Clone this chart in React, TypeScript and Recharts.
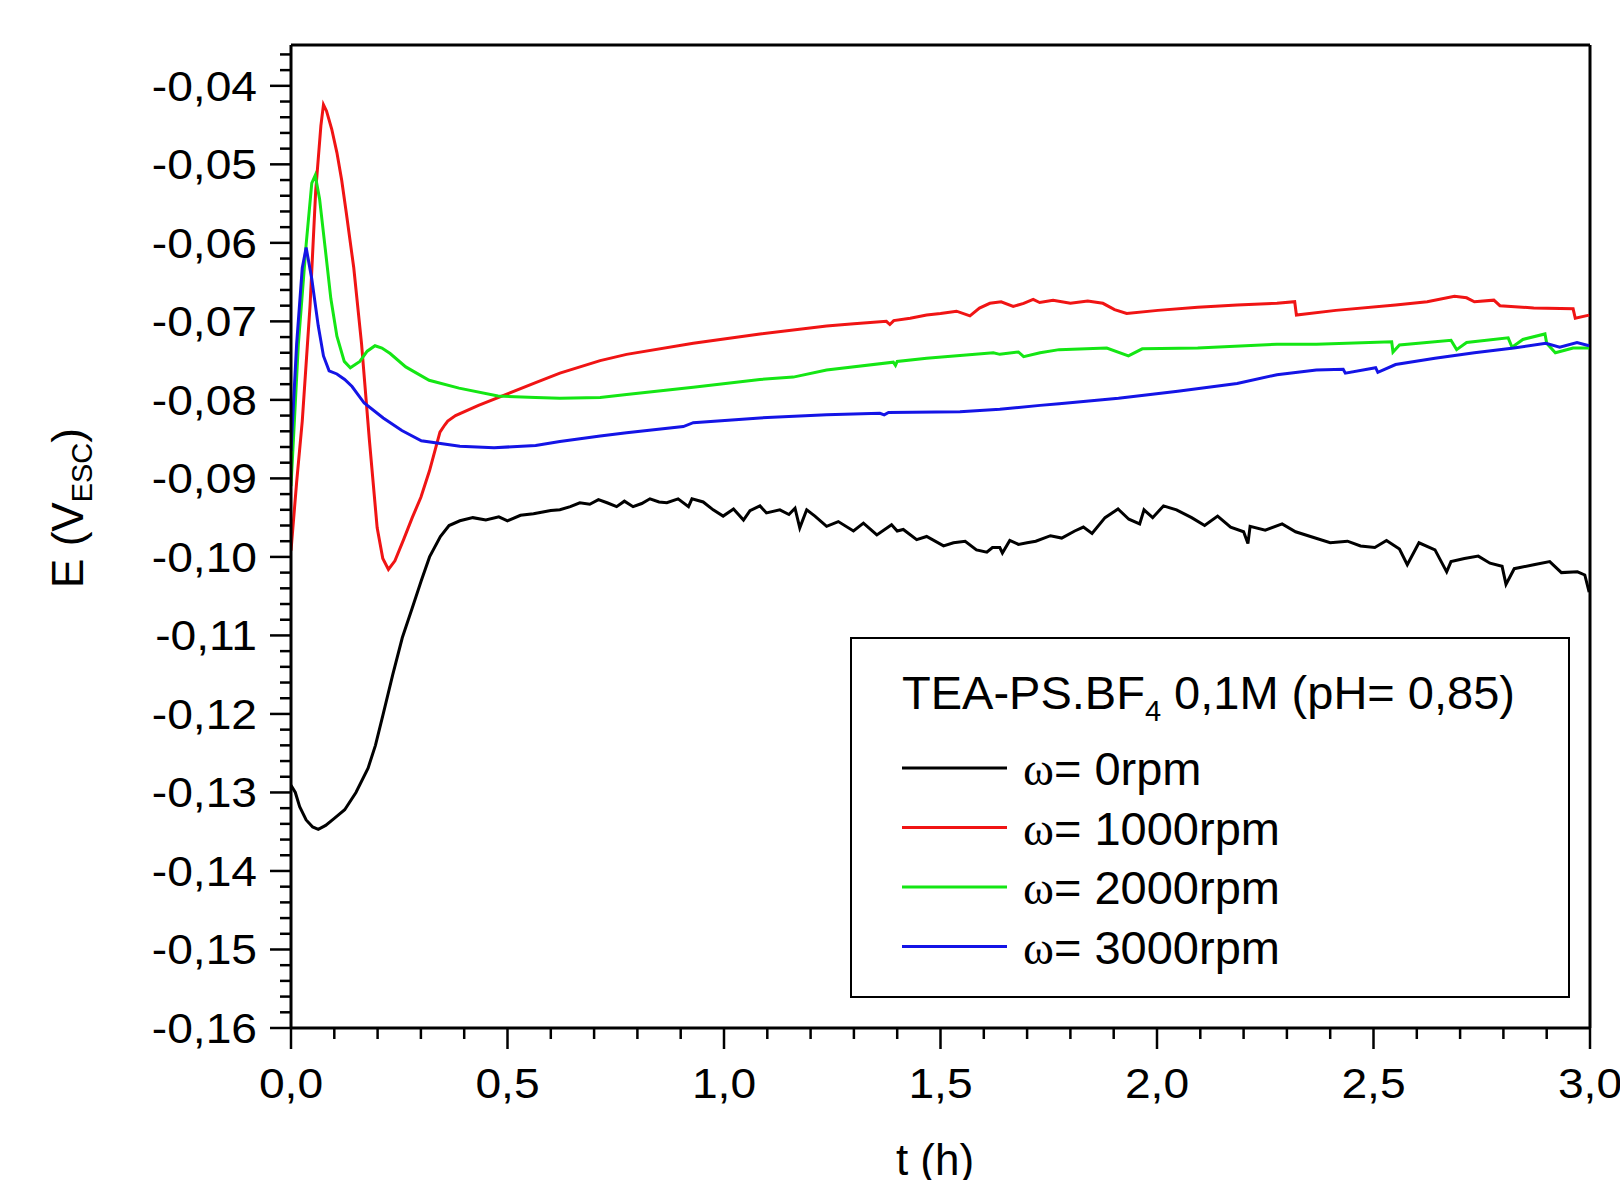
import React from 'react';
import { LineChart, Line, XAxis, YAxis, ReferenceLine, Legend } from 'recharts';

// time (h), potential (V vs ESC)
const BLACK: number[][] = [
  [0, -0.1291], [0.01, -0.13], [0.02, -0.1318], [0.035, -0.1335], [0.05, -0.1344], [0.063, -0.1347],
  [0.08, -0.1342], [0.1, -0.1333], [0.124, -0.1322], [0.15, -0.13], [0.178, -0.1269], [0.195, -0.124],
  [0.213, -0.12], [0.235, -0.115], [0.257, -0.1103], [0.28, -0.1065], [0.301, -0.103], [0.32, -0.1],
  [0.345, -0.0974], [0.365, -0.096], [0.39, -0.0954], [0.42, -0.095], [0.45, -0.0953], [0.48, -0.0949],
  [0.5, -0.0954], [0.53, -0.0947], [0.56, -0.0945], [0.6, -0.0941], [0.621, -0.094], [0.645, -0.0936],
  [0.667, -0.0931], [0.69, -0.0933], [0.71, -0.0927], [0.73, -0.0931], [0.752, -0.0936], [0.77, -0.0929],
  [0.79, -0.0936], [0.81, -0.0932], [0.829, -0.0926], [0.85, -0.093], [0.868, -0.0931], [0.894, -0.0926],
  [0.918, -0.0936], [0.926, -0.0926], [0.952, -0.093], [0.975, -0.094], [0.998, -0.0948], [1.022, -0.0939],
  [1.045, -0.0953], [1.06, -0.0941], [1.083, -0.0935], [1.098, -0.0944], [1.129, -0.094], [1.15, -0.0946],
  [1.164, -0.0938], [1.175, -0.0963], [1.191, -0.094], [1.21, -0.0948], [1.237, -0.0961], [1.264, -0.0955],
  [1.299, -0.0967], [1.322, -0.0957], [1.353, -0.0972], [1.387, -0.0959], [1.4, -0.0967], [1.414, -0.0965],
  [1.445, -0.0978], [1.468, -0.0974], [1.507, -0.0986], [1.53, -0.0982], [1.557, -0.098], [1.583, -0.0991],
  [1.607, -0.0994], [1.62, -0.0988], [1.637, -0.0988], [1.643, -0.0995], [1.66, -0.0979], [1.68, -0.0984],
  [1.7, -0.0982], [1.72, -0.098], [1.754, -0.0973], [1.78, -0.0976], [1.81, -0.0967], [1.83, -0.0962],
  [1.85, -0.097], [1.88, -0.095], [1.91, -0.0939], [1.935, -0.0952], [1.96, -0.0958], [1.97, -0.094],
  [1.99, -0.095], [2.015, -0.0935], [2.045, -0.094], [2.08, -0.095], [2.11, -0.096], [2.14, -0.0948],
  [2.17, -0.0962], [2.2, -0.0968], [2.21, -0.0983], [2.215, -0.0961], [2.25, -0.0966], [2.289, -0.0958],
  [2.32, -0.0968], [2.36, -0.0975], [2.4, -0.0982], [2.44, -0.098], [2.47, -0.0986], [2.503, -0.0988],
  [2.53, -0.0979], [2.56, -0.099], [2.578, -0.101], [2.605, -0.0982], [2.642, -0.0991], [2.669, -0.1019],
  [2.679, -0.1006], [2.71, -0.1002], [2.742, -0.0999], [2.769, -0.1008], [2.797, -0.1012], [2.806, -0.1035],
  [2.825, -0.1015], [2.87, -0.101], [2.907, -0.1006], [2.934, -0.102], [2.971, -0.1019], [2.988, -0.1023],
  [2.998, -0.1045],
];

const RED: number[][] = [
  [0, -0.0992], [0.013, -0.0905], [0.026, -0.0827], [0.044, -0.068], [0.057, -0.0534], [0.069, -0.0451],
  [0.075, -0.0424], [0.082, -0.0432], [0.094, -0.0455], [0.106, -0.0485], [0.117, -0.052], [0.128, -0.0563],
  [0.145, -0.0632], [0.163, -0.0729], [0.181, -0.0851], [0.199, -0.0963], [0.212, -0.1002], [0.225, -0.1016],
  [0.24, -0.1005], [0.26, -0.0978], [0.28, -0.095], [0.3, -0.0924], [0.32, -0.089], [0.344, -0.0841],
  [0.355, -0.0832], [0.362, -0.0827], [0.38, -0.082], [0.433, -0.0807], [0.565, -0.0778], [0.621, -0.0766],
  [0.714, -0.075], [0.775, -0.0742], [0.929, -0.0728], [1.083, -0.0716], [1.237, -0.0706], [1.3, -0.0703],
  [1.375, -0.07], [1.383, -0.0704], [1.392, -0.0699], [1.43, -0.0696], [1.468, -0.0692], [1.5, -0.069],
  [1.537, -0.0687], [1.568, -0.0693], [1.59, -0.0683], [1.614, -0.0677], [1.64, -0.0675], [1.668, -0.0681],
  [1.692, -0.0677], [1.714, -0.0672], [1.729, -0.0676], [1.76, -0.0673], [1.8, -0.0677], [1.84, -0.0674],
  [1.875, -0.0677], [1.902, -0.0685], [1.93, -0.069], [2.002, -0.0686], [2.094, -0.0682], [2.185, -0.0679],
  [2.277, -0.0677], [2.318, -0.0675], [2.322, -0.0692], [2.413, -0.0686], [2.551, -0.0679], [2.624, -0.0675],
  [2.687, -0.0668], [2.715, -0.067], [2.733, -0.0675], [2.778, -0.0673], [2.792, -0.068], [2.87, -0.0683],
  [2.961, -0.0684], [2.966, -0.0696], [2.998, -0.0692],
];

const GREEN: number[][] = [
  [0, -0.091], [0.017, -0.0729], [0.035, -0.0602], [0.048, -0.0524], [0.056, -0.0514], [0.066, -0.0544],
  [0.079, -0.0607], [0.092, -0.0671], [0.106, -0.0719], [0.123, -0.0751], [0.137, -0.0759], [0.159, -0.0751],
  [0.176, -0.0738], [0.194, -0.0731], [0.21, -0.0734], [0.229, -0.0741], [0.265, -0.0758], [0.319, -0.0775],
  [0.388, -0.0785], [0.478, -0.0795], [0.565, -0.0797], [0.621, -0.0798], [0.714, -0.0797], [0.775, -0.0793],
  [0.929, -0.0784], [1.083, -0.0774], [1.16, -0.0771], [1.237, -0.0762], [1.391, -0.0752], [1.396, -0.0756],
  [1.4, -0.0751], [1.468, -0.0747], [1.622, -0.074], [1.637, -0.0742], [1.68, -0.0739], [1.692, -0.0745],
  [1.73, -0.074], [1.774, -0.0736], [1.884, -0.0734], [1.934, -0.0744], [1.966, -0.0735], [2.094, -0.0734],
  [2.277, -0.0729], [2.368, -0.0729], [2.542, -0.0726], [2.545, -0.0739], [2.56, -0.073], [2.679, -0.0724],
  [2.692, -0.0736], [2.715, -0.0727], [2.811, -0.0721], [2.82, -0.0733], [2.845, -0.0723], [2.896, -0.0716],
  [2.9, -0.0728], [2.92, -0.074], [2.961, -0.0734], [2.998, -0.0734],
];

const BLUE: number[][] = [
  [0, -0.0865], [0.013, -0.0729], [0.026, -0.0632], [0.035, -0.0606], [0.048, -0.0646], [0.063, -0.0706],
  [0.075, -0.0744], [0.088, -0.0763], [0.106, -0.0767], [0.124, -0.0774], [0.141, -0.0783], [0.169, -0.0804],
  [0.213, -0.0823], [0.256, -0.0839], [0.301, -0.0852], [0.39, -0.0859], [0.469, -0.0861], [0.565, -0.0858],
  [0.621, -0.0853], [0.714, -0.0846], [0.775, -0.0842], [0.906, -0.0834], [0.929, -0.0829], [1.083, -0.0823],
  [1.237, -0.0819], [1.36, -0.0817], [1.37, -0.0819], [1.38, -0.0816], [1.545, -0.0815], [1.637, -0.0812],
  [1.73, -0.0807], [1.774, -0.0805], [1.911, -0.0798], [2.048, -0.0789], [2.185, -0.0779], [2.277, -0.0768],
  [2.368, -0.0762], [2.43, -0.0761], [2.435, -0.0766], [2.505, -0.0759], [2.51, -0.0765], [2.551, -0.0755],
  [2.642, -0.0747], [2.733, -0.074], [2.824, -0.0734], [2.898, -0.0728], [2.93, -0.0733], [2.97, -0.0727],
  [2.998, -0.0731],
];

const SERIES = [
  { name: 'ω= 0rpm', color: '#000000', points: BLACK },
  { name: 'ω= 1000rpm', color: '#f01414', points: RED },
  { name: 'ω= 2000rpm', color: '#14e614', points: GREEN },
  { name: 'ω= 3000rpm', color: '#1414e6', points: BLUE },
];

const X_MAJOR = [0, 0.5, 1, 1.5, 2, 2.5, 3];
const X_MINOR = [0.1, 0.2, 0.3, 0.4, 0.6, 0.7, 0.8, 0.9, 1.1, 1.2, 1.3, 1.4, 1.6, 1.7, 1.8, 1.9, 2.1, 2.2, 2.3, 2.4, 2.6, 2.7, 2.8, 2.9];
const Y_MAJOR = [-0.16, -0.15, -0.14, -0.13, -0.12, -0.11, -0.1, -0.09, -0.08, -0.07, -0.06, -0.05, -0.04];
const Y_TOP = -0.0348;
const LEGEND_TITLE = 'TEA-PS.BF';

const FONT = '"Liberation Sans", Arial, sans-serif';

const r4 = (v: number) => Math.round(v * 10000) / 10000;
const xTicks = [...X_MAJOR, ...X_MINOR].sort((a, b) => a - b);
// minor y ticks every 0.002 between the labelled ones
const yTicks = Y_MAJOR.flatMap((m) => [m, m + 0.002, m + 0.004, m + 0.006, m + 0.008].map(r4)).filter((v) => v < Y_TOP);

const XTick = (props: any) => {
  const { x, y, payload } = props;
  const major = X_MAJOR.includes(r4(payload.value));
  return (
    <g>
      <line x1={x} x2={x} y1={y} y2={y + (major ? 21 : 11)} stroke="#000" strokeWidth={2.5} />
      {major && (
        <text transform={`translate(${x},${y + 70}) scale(1.1,1)`} textAnchor="middle" fontSize={42} fontFamily={FONT} fill="#000">
          {payload.value.toFixed(1).replace('.', ',')}
        </text>
      )}
    </g>
  );
};

const YTick = (props: any) => {
  const { x, y, payload } = props;
  const major = Y_MAJOR.some((m) => Math.abs(m - payload.value) < 1e-6);
  return (
    <g>
      <line x1={x - (major ? 21 : 11)} x2={x} y1={y} y2={y} stroke="#000" strokeWidth={2.5} />
      {major && (
        <text transform={`translate(${x - 34},${y + 15}) scale(1.1,1)`} textAnchor="end" fontSize={42} fontFamily={FONT} fill="#000">
          {payload.value.toFixed(2).replace('.', ',')}
        </text>
      )}
    </g>
  );
};

const YTitle = () => (
  <text transform="translate(83,508) rotate(-90)" textAnchor="middle" fontSize={44} fontFamily={FONT} fill="#000">
    E (V<tspan fontSize={29} dy={9}>ESC</tspan><tspan dy={-9}>)</tspan>
  </text>
);

const XTitle = () => (
  <text x={935} y={1175} textAnchor="middle" fontSize={44} fontFamily={FONT} fill="#000">
    t (h)
  </text>
);

const LegendBox = (props: any) => {
  const items = props.payload || [];
  return (
    <svg width={720} height={361} style={{ display: 'block' }}>
      <rect x={1} y={1} width={718} height={359} fill="#fff" stroke="#000" strokeWidth={2} />
      <text x={52} y={72} fontSize={47} fontFamily={FONT} fill="#000">
        {LEGEND_TITLE}
        <tspan fontSize={29} dy={12}>4</tspan>
        <tspan dy={-12}> 0,1M (pH= 0,85)</tspan>
      </text>
      {items.map((item: any, i: number) => {
        const cy = 131 + i * 59.5;
        const label = String(item.value);
        return (
          <g key={label}>
            <line x1={52} x2={157} y1={cy} y2={cy} stroke={item.color} strokeWidth={3} />
            <text x={173} y={cy + 17} fontSize={47} fontFamily={FONT} fill="#000">
              <tspan fontFamily='"Liberation Serif", "Times New Roman", serif'>{label.charAt(0)}</tspan>
              {label.slice(1)}
            </text>
          </g>
        );
      })}
    </svg>
  );
};

export default function App() {
  return (
    <div style={{ position: 'absolute', left: 0, top: 0, width: 1620, height: 1180, background: '#fff' }}>
      <LineChart width={1620} height={1180} margin={{ top: 45, right: 30, bottom: 0, left: 0 }}>
        <XAxis
          dataKey="t"
          type="number"
          domain={[0, 3]}
          ticks={xTicks}
          interval={0}
          height={152}
          tickSize={0}
          tickMargin={0}
          tickLine={false}
          tick={<XTick />}
          axisLine={{ stroke: '#000', strokeWidth: 3 }}
          allowDataOverflow
        />
        <YAxis
          type="number"
          domain={[-0.16, Y_TOP]}
          ticks={yTicks}
          interval={0}
          width={291}
          tickSize={0}
          tickMargin={0}
          tickLine={false}
          tick={<YTick />}
          axisLine={{ stroke: '#000', strokeWidth: 3 }}
          allowDataOverflow
        />
        <ReferenceLine y={Y_TOP} stroke="#000" strokeWidth={3} />
        <ReferenceLine x={3} stroke="#000" strokeWidth={3} />
        {SERIES.map((s) => (
          <Line
            key={s.name}
            name={s.name}
            data={s.points.map(([t, e]) => ({ t, e }))}
            dataKey="e"
            type="linear"
            stroke={s.color}
            strokeWidth={3}
            dot={false}
            activeDot={false}
            isAnimationActive={false}
          />
        ))}
        <Legend
          layout="horizontal"
          verticalAlign="middle"
          align="center"
          width={720}
          height={361}
          wrapperStyle={{ left: 850, top: 637, width: 720, height: 361 }}
          content={<LegendBox />}
        />
      </LineChart>
      <svg width={1620} height={1180} style={{ position: 'absolute', left: 0, top: 0, pointerEvents: 'none' }}>
        <YTitle />
        <XTitle />
      </svg>
    </div>
  );
}
